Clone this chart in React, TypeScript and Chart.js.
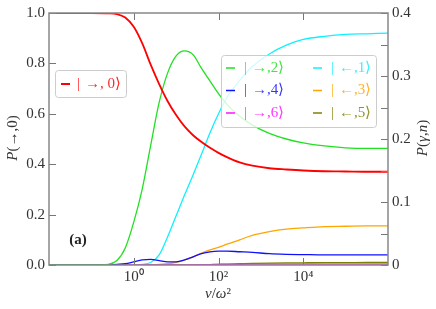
import React, { useEffect, useRef } from 'react';
import { Chart, registerables } from 'chart.js';
Chart.register(...registerables);

// v / omega^2 sample points
const vValues = [0.01, 0.1, 0.25, 0.4, 0.63, 1, 1.58, 2.51, 3.98, 6.31, 10, 15.8, 25.1, 39.8, 63.1, 100, 158, 316, 631, 1585, 3981, 10000, 31623, 100000, 316228, 1000000];

// left axis: P(->,0)
const pR0 = [1.0, 1.0, 0.999, 0.996, 0.982, 0.945, 0.88, 0.795, 0.718, 0.65, 0.595, 0.55, 0.515, 0.488, 0.465, 0.445, 0.428, 0.407, 0.394, 0.384, 0.379, 0.375, 0.372, 0.371, 0.37, 0.37];
// right axis: P(gamma,n)
const pR2 = [0, 0, 0.001, 0.007, 0.027, 0.068, 0.12, 0.19, 0.258, 0.305, 0.332, 0.34, 0.334, 0.312, 0.292, 0.272, 0.255, 0.236, 0.222, 0.209, 0.2, 0.194, 0.189, 0.186, 0.185, 0.185];
const pR4 = [0, 0, 0, 0.001, 0.002, 0.005, 0.008, 0.009, 0.007, 0.005, 0.005, 0.008, 0.013, 0.018, 0.021, 0.022, 0.022, 0.021, 0.02, 0.018, 0.017, 0.0165, 0.016, 0.016, 0.016, 0.016];
const pR6 = [0, 0, 0, 0, 0, 0, 0, 0, 0, 0, 0, 0.0001, 0.0003, 0.0005, 0.0007, 0.0009, 0.001, 0.0012, 0.0013, 0.0014, 0.0015, 0.0015, 0.0015, 0.0015, 0.0015, 0.0015];
const pL1 = [0, 0, 0, 0, 0, 0, 0.001, 0.004, 0.016, 0.045, 0.078, 0.111, 0.143, 0.176, 0.21, 0.24, 0.266, 0.293, 0.315, 0.335, 0.349, 0.358, 0.363, 0.366, 0.367, 0.368];
const pL3 = [0, 0, 0, 0, 0, 0, 0, 0, 0.001, 0.002, 0.004, 0.008, 0.013, 0.019, 0.024, 0.028, 0.033, 0.04, 0.047, 0.053, 0.057, 0.059, 0.061, 0.0615, 0.062, 0.062];
const pL5 = [0, 0, 0, 0, 0, 0, 0, 0, 0, 0, 0, 0, 0, 0, 0.0005, 0.001, 0.0015, 0.002, 0.0025, 0.003, 0.0033, 0.0035, 0.0037, 0.0038, 0.004, 0.004];

const labels = ['|→, 0⟩', '|→,2⟩', '|→,4⟩', '|→,6⟩', '|←,1⟩', '|←,3⟩', '|←,5⟩'];
const colors = ['#ff0000', '#22e022', '#1010ff', '#ff10ff', '#10f0ff', '#ffa500', '#808000'];

const xTickValues = [1, 100, 10000];
const xTickLabels = ['10⁰', '10²', '10⁴'];
const leftTickValues = [0, 0.2, 0.4, 0.6, 0.8, 1.0];
const leftTickLabels = ['0.0', '0.2', '0.4', '0.6', '0.8', '1.0'];
const rightTickValues = [0, 0.05, 0.1, 0.15, 0.2, 0.25, 0.3, 0.35, 0.4];
const rightTickLabels = ['0', '', '0.1', '', '0.2', '', '0.3', '', '0.4'];

const SERIF = '"Liberation Serif", serif';

type Part = { t: string; it?: boolean; bold?: boolean };
function drawRich(ctx: CanvasRenderingContext2D, parts: Part[], x: number, y: number, size: number) {
  const fontOf = (p: Part) => `${p.it ? 'italic ' : ''}${p.bold ? 'bold ' : ''}${size}px ${SERIF}`;
  let w = 0;
  parts.forEach(p => { ctx.font = fontOf(p); w += ctx.measureText(p.t).width; });
  let cx = x - w / 2;
  ctx.textAlign = 'left';
  ctx.textBaseline = 'middle';
  parts.forEach(p => { ctx.font = fontOf(p); ctx.fillText(p.t, cx, y); cx += ctx.measureText(p.t).width; });
}

function roundRect(ctx: CanvasRenderingContext2D, x: number, y: number, w: number, h: number, r: number) {
  ctx.beginPath();
  ctx.moveTo(x + r, y);
  ctx.lineTo(x + w - r, y);
  ctx.quadraticCurveTo(x + w, y, x + w, y + r);
  ctx.lineTo(x + w, y + h - r);
  ctx.quadraticCurveTo(x + w, y + h, x + w - r, y + h);
  ctx.lineTo(x + r, y + h);
  ctx.quadraticCurveTo(x, y + h, x, y + h - r);
  ctx.lineTo(x, y + r);
  ctx.quadraticCurveTo(x, y, x + r, y);
  ctx.closePath();
}

function drawEntry(ctx: CanvasRenderingContext2D, idx: number, hx: number, tx: number, y: number, lw: number) {
  ctx.save();
  ctx.strokeStyle = colors[idx];
  ctx.lineWidth = lw;
  ctx.beginPath();
  ctx.moveTo(hx, y);
  ctx.lineTo(hx + 9, y);
  ctx.stroke();
  ctx.globalAlpha = 0.85;
  ctx.fillStyle = colors[idx];
  ctx.font = `15px ${SERIF}`;
  ctx.textAlign = 'left';
  ctx.textBaseline = 'middle';
  const lab = labels[idx];
  ctx.fillText(lab[0], tx, y);
  ctx.fillText(lab.slice(1), tx + 8, y);
  ctx.restore();
}

const framePlugin = {
  id: 'frameAndText',
  afterDatasetsDraw(chart: any) {
    const { ctx, chartArea: a, scales } = chart;
    ctx.save();
    // ticks
    ctx.strokeStyle = '#777';
    ctx.lineWidth = 1;
    ctx.beginPath();
    xTickValues.forEach(v => {
      const x = Math.round(scales.x.getPixelForValue(v)) + 0.5;
      ctx.moveTo(x, a.bottom); ctx.lineTo(x, a.bottom - 7);
      ctx.moveTo(x, a.top); ctx.lineTo(x, a.top + 7);
    });
    leftTickValues.forEach(v => {
      const y = Math.round(scales.y.getPixelForValue(v)) + 0.5;
      ctx.moveTo(a.left, y); ctx.lineTo(a.left + 7, y);
    });
    rightTickValues.forEach(v => {
      const y = Math.round(scales.y2.getPixelForValue(v)) + 0.5;
      ctx.moveTo(a.right, y); ctx.lineTo(a.right - 7, y);
    });
    ctx.stroke();
    // frame
    ctx.strokeStyle = '#888';
    ctx.lineWidth = 1.5;
    ctx.strokeRect(a.left, a.top, a.right - a.left, a.bottom - a.top);

    // legend 1
    ctx.fillStyle = 'rgba(255,255,255,0.8)';
    ctx.strokeStyle = '#cccccc';
    ctx.lineWidth = 1;
    roundRect(ctx, 55.5, 70.5, 71, 27, 3);
    ctx.fill(); ctx.stroke();
    drawEntry(ctx, 0, 61, 77, 84, 2);

    // legend 2
    ctx.fillStyle = 'rgba(255,255,255,0.8)';
    ctx.strokeStyle = '#cccccc';
    roundRect(ctx, 221.5, 55.5, 155, 72, 3);
    ctx.fill(); ctx.stroke();
    const rows = [68, 90.5, 113];
    [1, 2, 3].forEach((idx, r) => drawEntry(ctx, idx, 226, 244, rows[r], 1.5));
    [4, 5, 6].forEach((idx, r) => drawEntry(ctx, idx, 313, 331, rows[r], 1.5));

    // (a)
    ctx.fillStyle = '#222';
    drawRich(ctx, [{ t: '(a)', bold: true }], 78, 240, 15);

    // axis titles
    ctx.fillStyle = '#333';
    drawRich(ctx, [{ t: 'v', it: true }, { t: '/' }, { t: 'ω', it: true }, { t: '²' }], 218, 294, 15);
    ctx.save();
    ctx.translate(13, 138);
    ctx.rotate(-Math.PI / 2);
    drawRich(ctx, [{ t: 'P', it: true }, { t: '(→,0)' }], 0, 0, 15);
    ctx.restore();
    ctx.save();
    ctx.translate(423, 138);
    ctx.rotate(-Math.PI / 2);
    drawRich(ctx, [{ t: 'P', it: true }, { t: '(' }, { t: 'γ', it: true }, { t: ',' }, { t: 'n', it: true }, { t: ')' }], 0, 0, 15);
    ctx.restore();
    ctx.restore();
  },
};

export default function App() {
  const ref = useRef<HTMLCanvasElement>(null);
  useEffect(() => {
    let chart: Chart | null = null;
    let cancelled = false;
    const build = () => {
      if (cancelled || !ref.current) return;
      const series = [pR0, pR2, pR4, pR6, pL1, pL3, pL5];
      const datasets = series.map((s, i) => ({
        label: labels[i],
        data: s.map((y, k) => ({ x: vValues[k], y })),
        borderColor: colors[i],
        backgroundColor: colors[i],
        borderWidth: i === 0 ? 1.8 : 1.3,
        pointRadius: 0,
        cubicInterpolationMode: 'monotone' as const,
        yAxisID: i === 0 ? 'y' : 'y2',
        fill: false,
      }));
      const tickFont = { family: SERIF, size: 15 };
      chart = new Chart(ref.current, {
        type: 'line',
        data: { datasets },
        options: {
          animation: false,
          responsive: true,
          maintainAspectRatio: false,
          layout: { padding: { top: 12, left: 0, right: 0, bottom: 0 } },
          plugins: { legend: { display: false }, tooltip: { enabled: false } },
          scales: {
            x: {
              type: 'logarithmic',
              min: 0.01,
              max: 1000000,
              grid: { display: false, drawTicks: false },
              border: { display: false },
              afterBuildTicks: (s: any) => { s.ticks = xTickValues.map(v => ({ value: v })); },
              afterFit: (s: any) => { s.height = 44; },
              ticks: {
                autoSkip: false,
                maxRotation: 0,
                padding: 3,
                color: '#333',
                font: tickFont,
                callback: (_v: any, i: number) => xTickLabels[i],
              },
            },
            y: {
              type: 'linear',
              position: 'left',
              min: 0,
              max: 1,
              grid: { display: false, drawTicks: false },
              border: { display: false },
              afterBuildTicks: (s: any) => { s.ticks = leftTickValues.map(v => ({ value: v })); },
              afterFit: (s: any) => { s.width = 49; },
              ticks: {
                autoSkip: false,
                padding: 4,
                color: '#333',
                font: tickFont,
                callback: (_v: any, i: number) => leftTickLabels[i],
              },
            },
            y2: {
              type: 'linear',
              position: 'right',
              min: 0,
              max: 0.4,
              grid: { display: false, drawTicks: false },
              border: { display: false },
              afterBuildTicks: (s: any) => { s.ticks = rightTickValues.map(v => ({ value: v })); },
              afterFit: (s: any) => { s.width = 48; },
              ticks: {
                autoSkip: false,
                padding: 4,
                color: '#333',
                font: tickFont,
                callback: (_v: any, i: number) => rightTickLabels[i],
              },
            },
          },
        },
        plugins: [framePlugin],
      });
    };
    const fonts: any = (document as any).fonts;
    if (fonts && fonts.load) {
      Promise.all([
        fonts.load('15px "Liberation Serif"'),
        fonts.load('italic 15px "Liberation Serif"'),
        fonts.load('bold 15px "Liberation Serif"'),
      ]).then(build, build);
    } else {
      build();
    }
    return () => { cancelled = true; if (chart) chart.destroy(); };
  }, []);
  return (
    <div style={{ position: 'fixed', left: 0, top: 0, width: 436, height: 309, background: '#fff' }}>
      <canvas ref={ref} />
    </div>
  );
}
